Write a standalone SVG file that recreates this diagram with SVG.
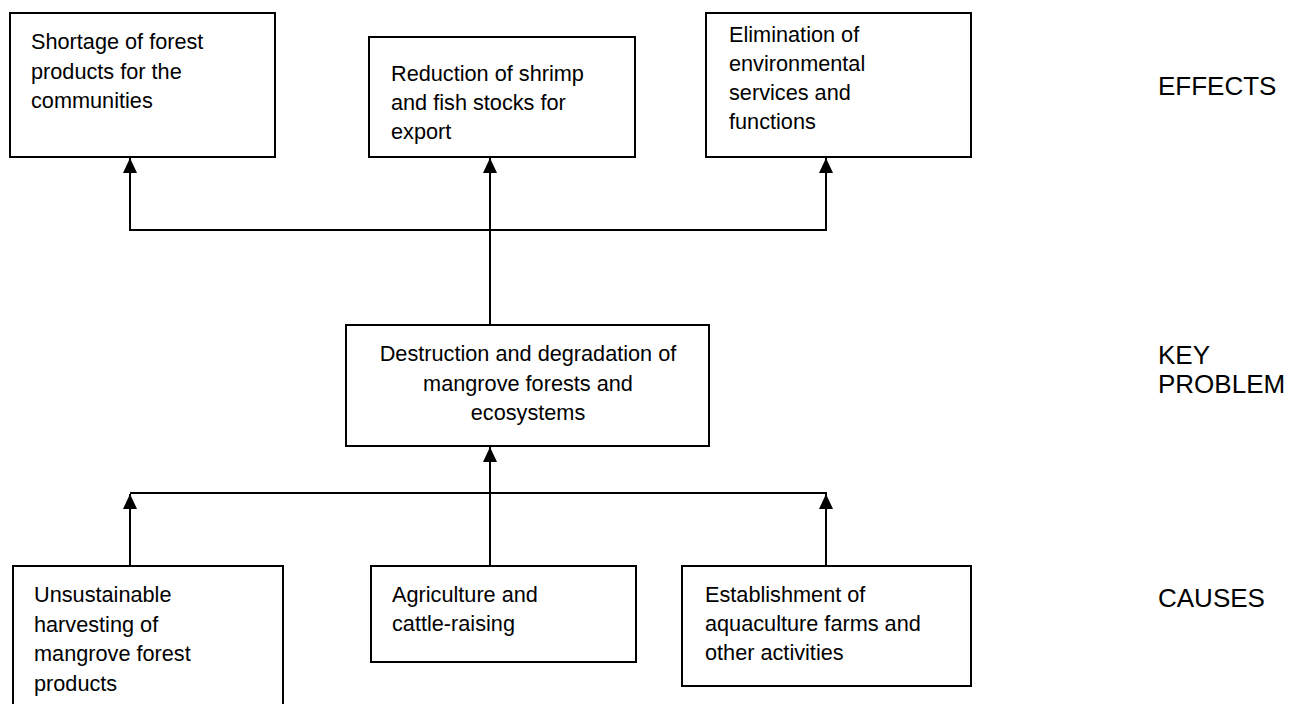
<svg xmlns="http://www.w3.org/2000/svg" width="1289" height="704" viewBox="0 0 1289 704">
<style>
.box{fill:#fff;stroke:#000;stroke-width:2}
.t{font-family:"Liberation Sans",Arial,sans-serif;font-size:21.7px;fill:#000}
.c{text-anchor:middle}
.lbl{font-family:"Liberation Sans",Arial,sans-serif;font-size:26px;fill:#000}
.ln{fill:none;stroke:#000;stroke-width:2}
</style>
<defs>
<marker id="ah" markerUnits="userSpaceOnUse" markerWidth="16" markerHeight="14" refX="15" refY="7" orient="auto">
<path d="M0,0 L15,7 L0,14 z" fill="#000"/>
</marker>
</defs>
<rect width="1289" height="704" fill="#fff"/>
<g id="connectors">
<line class="ln" x1="490" y1="325" x2="490" y2="158" marker-end="url(#ah)"/>
<line class="ln" x1="129" y1="230" x2="827" y2="230"/>
<line class="ln" x1="130" y1="230" x2="130" y2="158" marker-end="url(#ah)"/>
<line class="ln" x1="826" y1="230" x2="826" y2="158" marker-end="url(#ah)"/>
<line class="ln" x1="130" y1="493" x2="827" y2="493"/>
<line class="ln" x1="130" y1="566" x2="130" y2="494" marker-end="url(#ah)"/>
<line class="ln" x1="826" y1="566" x2="826" y2="494" marker-end="url(#ah)"/>
<line class="ln" x1="490" y1="566" x2="490" y2="447" marker-end="url(#ah)"/>
</g>
<g id="effect-forest-products">
<rect class="box" x="10" y="13" width="265" height="144"/>
<text class="t" x="31" y="49">Shortage of forest</text>
<text class="t" x="31" y="78.5">products for the</text>
<text class="t" x="31" y="108">communities</text>
</g>
<g id="effect-shrimp-fish">
<rect class="box" x="369" y="37" width="266" height="120"/>
<text class="t" x="391" y="81">Reduction of shrimp</text>
<text class="t" x="391" y="110">and fish stocks for</text>
<text class="t" x="391" y="139">export</text>
</g>
<g id="effect-environmental">
<rect class="box" x="706" y="13" width="265" height="144"/>
<text class="t" x="729" y="42">Elimination of</text>
<text class="t" x="729" y="71">environmental</text>
<text class="t" x="729" y="100">services and</text>
<text class="t" x="729" y="129">functions</text>
</g>
<g id="key-problem">
<rect class="box" x="346" y="325" width="363" height="121"/>
<text class="t c" x="528" y="361">Destruction and degradation of</text>
<text class="t c" x="528" y="390.5">mangrove forests and</text>
<text class="t c" x="528" y="420">ecosystems</text>
</g>
<g id="cause-harvesting">
<rect class="box" x="13" y="566" width="270" height="160"/>
<text class="t" x="34" y="602">Unsustainable</text>
<text class="t" x="34" y="631.5">harvesting of</text>
<text class="t" x="34" y="661">mangrove forest</text>
<text class="t" x="34" y="690.5">products</text>
</g>
<g id="cause-agriculture">
<rect class="box" x="371" y="566" width="265" height="96"/>
<text class="t" x="392" y="602">Agriculture and</text>
<text class="t" x="392" y="631">cattle-raising</text>
</g>
<g id="cause-aquaculture">
<rect class="box" x="682" y="566" width="289" height="120"/>
<text class="t" x="705" y="602">Establishment of</text>
<text class="t" x="705" y="631">aquaculture farms and</text>
<text class="t" x="705" y="660">other activities</text>
</g>
<g id="labels">
<text class="lbl" x="1158" y="95">EFFECTS</text>
<text class="lbl" x="1158" y="364">KEY</text>
<text class="lbl" x="1158" y="393">PROBLEM</text>
<text class="lbl" x="1158" y="607">CAUSES</text>
</g>
</svg>
